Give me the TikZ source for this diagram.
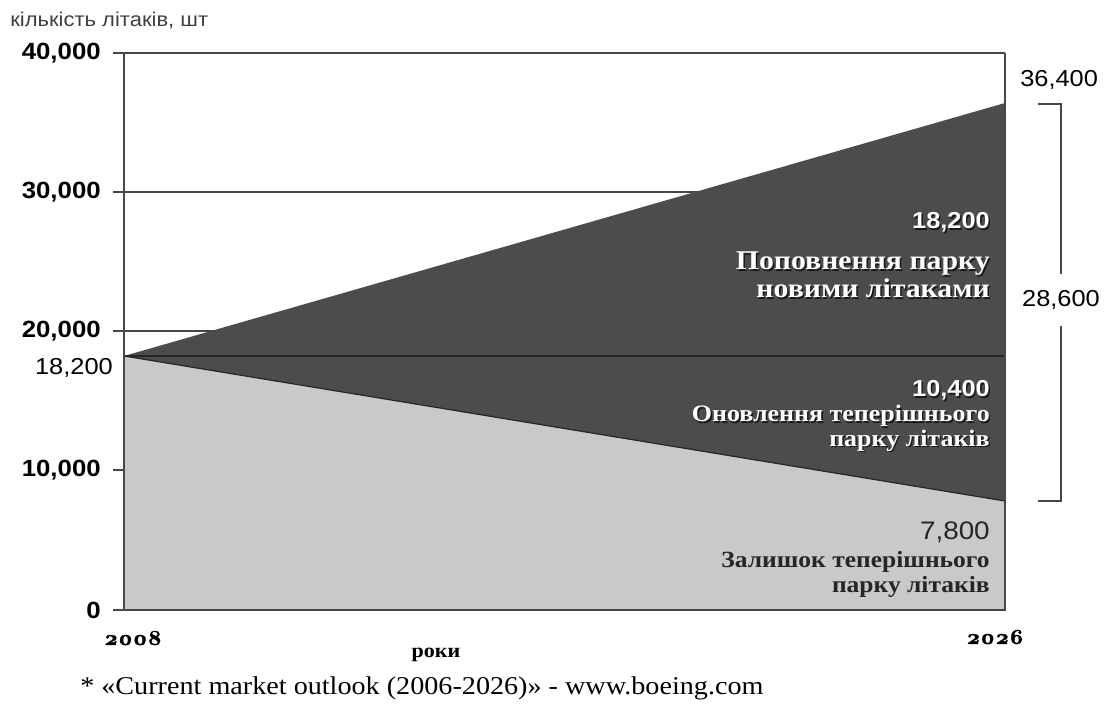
\documentclass[tikz,border=0pt]{standalone}
\usepackage{fontspec}
\setmainfont{Liberation Serif}[FakeStretch=1.1]
\newfontfamily\arialfont{Liberation Sans}[FakeStretch=1.1]
\newfontfamily\yearfont{lmroman10-bold.otf}[Numbers=OldStyle,FakeBold=1.6,FakeStretch=1.05]
\usepackage{xcolor}
\usetikzlibrary{positioning}
\definecolor{darkfill}{gray}{0.30}
\definecolor{lightfill}{gray}{0.79}
\definecolor{gridcol}{gray}{0.28}
\newcommand\shadowed[1]{\leavevmode\rlap{\hspace{1.1pt}\raisebox{-1.1pt}{\color{black!90}#1}}{\color{white}#1}}

\begin{document}
\begin{tikzpicture}[x=0.75pt,y=-0.75pt,
  grid/.style={draw=gridcol,line width=1.1pt},
  bracket/.style={draw=gridcol,line width=1.1pt},
  ticklbl/.style={anchor=east,inner sep=0pt,font=\arialfont\bfseries\fontsize{17.6}{18}\selectfont},
  sumlbl/.style={inner sep=0pt,font=\arialfont\fontsize{17.3}{18}\selectfont},
  innum/.style={anchor=east,inner sep=0pt,font=\arialfont\bfseries\fontsize{17.3}{18}\selectfont},
  yearlbl/.style={inner sep=0pt,font=\yearfont\fontsize{16}{17}\selectfont}]
\useasboundingbox (0,0) rectangle (1112,709);

% corners of the areas
\coordinate (o) at (124,610);
\coordinate (s) at (124,356);
\coordinate (r) at (1005,610);
\coordinate (n) at (1005,103);
\coordinate (m) at (1005,356);
\coordinate (k) at (1005,501);

% grid lines
\draw[grid] (113,53) -- (1005,53);
\draw[grid] (113,192) -- (1005,192);
\draw[grid] (113,331) -- (1005,331);
\draw[grid] (113,470) -- (1005,470);
\draw[grid] (113,610) -- (124,610);

% areas
\fill[lightfill] (o) -- (s) -- (k) -- (r) -- cycle;
\fill[darkfill] (s) -- (n) -- (k) -- cycle;
\draw[black!85,line width=0.9pt] (s) -- (m);
\draw[black!85,line width=0.9pt] (s) -- (k);
\draw[grid] (124,53) -- (o) -- (r) -- (1005,53);

% axis
\node (title) at (10,21) [anchor=west,inner sep=0pt,text=black!75,font=\arialfont\fontsize{15}{16}\selectfont] {кількість літаків, шт};
\node (t40) at (101,53) [ticklbl] {40,000};
\node (t30) at (101,192) [ticklbl] {30,000};
\node (t20) at (101,331) [ticklbl] {20,000};
\node (t10) at (101,470) [ticklbl] {10,000};
\node (t0) at (101,610) [ticklbl] {0};
\node (start) at (113,368) [sumlbl,anchor=east] {18,200};
\node (y1) at (133,638) [yearlbl] {2008};
\node (y2) at (995,637) [yearlbl] {2026};
\node (years) at (436,655) [inner sep=0pt,font=\bfseries\fontsize{15}{16}\selectfont] {роки};

% labels in the areas
\node (addnum) at (990,223) [innum] {\shadowed{18,200}};
\node (addtxt) at (990,276) [anchor=east,inner sep=0pt,align=right,font=\bfseries\fontsize{20.3}{21}\selectfont] {\shadowed{Поповнення парку}\\\shadowed{новими літаками}};
\node (renum) at (990,391) [innum] {\shadowed{10,400}};
\node (retxt) at (990,429) [anchor=east,inner sep=0pt,align=right,font=\bfseries\fontsize{17.7}{16}\selectfont] {\shadowed{Оновлення теперішнього}\\\shadowed{парку літаків}};
\node (restnum) at (990,532) [anchor=east,inner sep=0pt,text=black!85,font=\arialfont\fontsize{19}{20}\selectfont] {7,800};
\node (resttxt) at (990,574) [anchor=east,inner sep=0pt,align=right,text=black!85,font=\bfseries\fontsize{17.4}{18.75}\selectfont] {Залишок теперішнього\\парку літаків};

% totals on the right
\node (total) at (1020,80) [sumlbl,anchor=west] {36,400};
\node (need) at (1061,300) [sumlbl,inner ysep=12pt] {28,600};
\coordinate (btop) at (1038,104);
\coordinate (bbot) at (1038,501);
\draw[bracket] (btop) -| (need);
\draw[bracket] (bbot) -| (need);

% source
\node (src) at (80,688) [anchor=west,inner sep=0pt,font=\fontsize{19.2}{20}\selectfont] {* «Current market outlook (2006-2026)» - www.boeing.com};
\end{tikzpicture}
\end{document}
